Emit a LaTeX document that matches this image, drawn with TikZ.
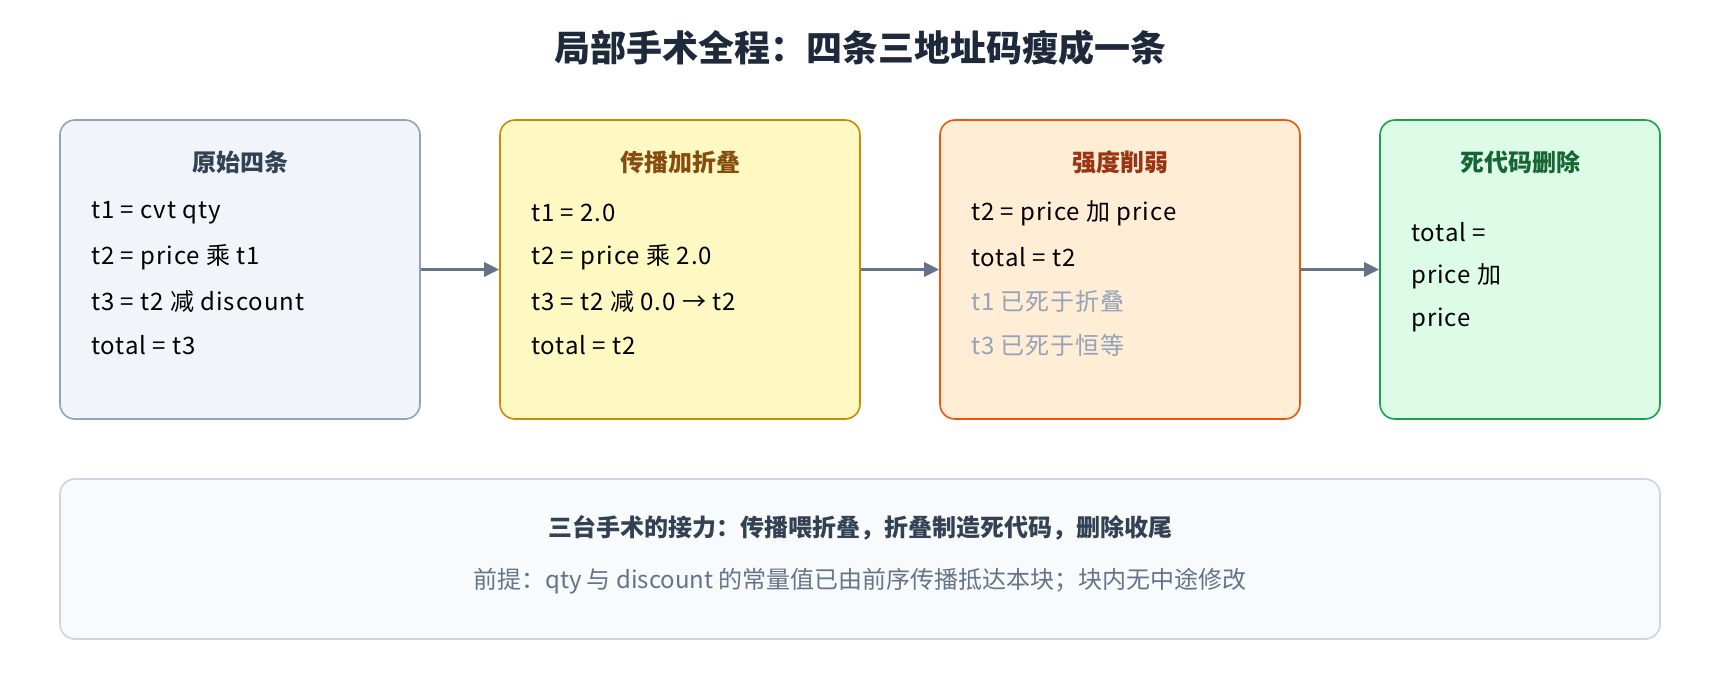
\documentclass[tikz,border=0pt]{standalone}
\usepackage{fontspec}
\setmainfont{Noto Sans CJK SC}
\usetikzlibrary{arrows.meta,positioning}
\definecolor{ink}{HTML}{1E293B}
\definecolor{slate}{HTML}{334155}
\definecolor{mute}{HTML}{94A3B8}
\definecolor{grey}{HTML}{64748B}
\definecolor{origfill}{HTML}{F1F5F9}
\definecolor{foldfill}{HTML}{FEF9C3}
\definecolor{foldline}{HTML}{CA8A04}
\definecolor{foldtext}{HTML}{854D0E}
\definecolor{redfill}{HTML}{FFEDD5}
\definecolor{redline}{HTML}{EA580C}
\definecolor{redtext}{HTML}{9A3412}
\definecolor{deadfill}{HTML}{DCFCE7}
\definecolor{deadline}{HTML}{16A34A}
\definecolor{deadtext}{HTML}{166534}
\definecolor{notefill}{HTML}{F8FAFC}
\definecolor{noteline}{HTML}{CBD5E1}
\tikzset{
  stagebox/.style={draw, line width=1.6pt, rounded corners=15pt, minimum height=299pt},
  boxtitle/.style={font=\fontsize{24}{28}\selectfont\bfseries},
  codeline/.style={anchor=west, inner sep=0pt, text=black,
    font=\fontsize{24}{28}\selectfont\addfontfeature{LetterSpace=4}},
  flow/.style={draw=grey, line width=3.3pt, -{Triangle[length=15pt,width=14pt]}}
}
\begin{document}
\begin{tikzpicture}[x=1pt,y=-1pt]
  \useasboundingbox[fill=white] (0,0) rectangle (1720,680);
  % Titel
  \node[font=\fontsize{36}{40}\selectfont\bfseries, text=ink] (title) at (860,48) {局部手术全程：四条三地址码瘦成一条};
  % Vier Kaesten
  \node[stagebox, fill=origfill, draw=mute, minimum width=360pt] (orig) at (240,269.5) {};
  \node[stagebox, fill=foldfill, draw=foldline, minimum width=360pt] (fold) at (680,269.5) {};
  \node[stagebox, fill=redfill, draw=redline, minimum width=360pt] (reduce) at (1120,269.5) {};
  \node[stagebox, fill=deadfill, draw=deadline, minimum width=280pt] (dead) at (1520,269.5) {};
  % Ueberschriften
  \node[boxtitle, text=slate] (origT) at (240,162) {原始四条};
  \node[boxtitle, text=foldtext] (foldT) at (680,162) {传播加折叠};
  \node[boxtitle, text=redtext] (reduceT) at (1120,162) {强度削弱};
  \node[boxtitle, text=deadtext] (deadT) at (1520,162) {死代码删除};
  % Code links
  \node[codeline] (o1) at (91,213) {t1 = cvt qty};
  \node[codeline] (o2) at (91,257) {t2 = price 乘 t1};
  \node[codeline] (o3) at (91,301) {t3 = t2 减 discount};
  \node[codeline] (o4) at (91,345) {total = t3};
  \node[codeline] (f1) at (531,213) {t1 = 2.0};
  \node[codeline] (f2) at (531,257) {t2 = price 乘 2.0};
  \node[codeline] (f3) at (531,301) {t3 = t2 减 0.0 → t2};
  \node[codeline] (f4) at (531,345) {total = t2};
  \node[codeline] (r1) at (971,213) {t2 = price 加 price};
  \node[codeline] (r2) at (971,257) {total = t2};
  \node[codeline, text=mute] (r3) at (971,301) {t1 已死于折叠};
  \node[codeline, text=mute] (r4) at (971,345) {t3 已死于恒等};
  \node[codeline] (d1) at (1411,232) {total =};
  \node[codeline] (d2) at (1411,276) {price 加};
  \node[codeline] (d3) at (1411,320) {price};
  % Pfeile
  \draw[flow] (orig.east) -- (fold.west);
  \draw[flow] (fold.east) -- (reduce.west);
  \draw[flow] (reduce.east) -- (dead.west);
  % Fusszeile
  \node[draw=noteline, fill=notefill, line width=1.6pt, rounded corners=15pt,
        minimum width=1600pt, minimum height=160pt] (note) at (860,559) {};
  \node[font=\fontsize{24}{28}\selectfont\bfseries, text=slate] (noteT) at (860,528) {三台手术的接力：传播喂折叠，折叠制造死代码，删除收尾};
  \node[font=\fontsize{24}{28}\selectfont, text=grey] (noteS) at (860,581) {前提：qty 与 discount 的常量值已由前序传播抵达本块；块内无中途修改};
\end{tikzpicture}
\end{document}
